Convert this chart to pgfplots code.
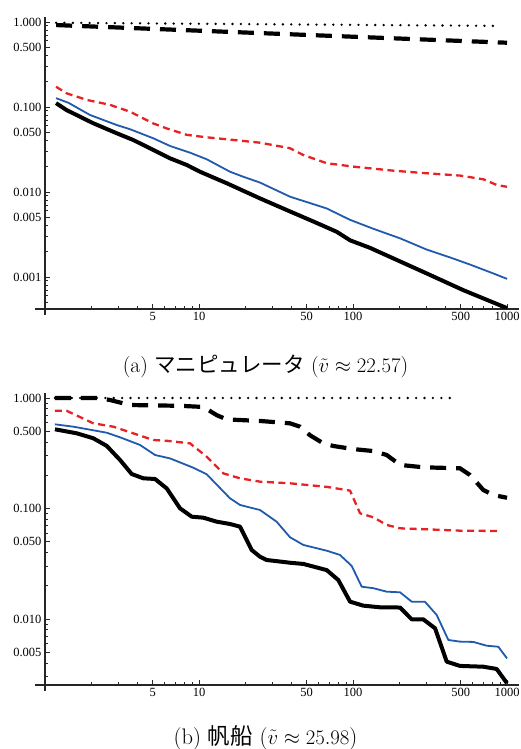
\documentclass[border=0pt]{standalone}
\usepackage{fontspec}
\usepackage{pgfplots}
\pgfplotsset{compat=1.18}
\newfontfamily\tickfont{Liberation Serif}
\newfontfamily\jafont{Noto Sans CJK JP}

\definecolor{curvred}{RGB}{232,34,36}
\definecolor{curvblue}{RGB}{32,90,172}

\tikzset{
  ldots/.style={black, line width=2.6pt, line cap=round, dash pattern=on 0pt off 8.4pt},
  lbigdash/.style={black, line width=4.2pt, dash pattern=on 16pt off 10pt},
  lred/.style={curvred, line width=2.3pt, dash pattern=on 7pt off 4.5pt, line join=round},
  lblue/.style={curvblue, line width=1.8pt, line join=round},
  lblack/.style={black, line width=4pt, line join=round},
}

\begin{document}
\begin{tikzpicture}
\path[use as bounding box] (0,0) rectangle (521pt,749pt);

% (a)
\begin{axis}[at={(45pt,440pt)}, anchor=south west,
  scale only axis, width=474.2pt, height=292pt,
  xmode=log, ymode=log,
  xmin=1, xmax=1200,
  ymin=0.00042, ymax=1.145,
  axis x line*=bottom, axis y line*=left,
  x axis line style={shorten <=-10pt},
  y axis line style={shorten <=-6pt},
  axis line style={line width=1.1pt, black!85},
  tick style={black!85, line width=0.9pt},
  major tick length=5pt, minor tick length=3pt,
  tick align=inside,
  xtick={5,10,50,100,500,1000},
  xticklabels={5,10,50,100,500,1000},
  minor xtick={2,3,4,6,7,8,9,20,30,40,60,70,80,90,200,300,400,600,700,800,900},
  ticklabel style={font=\tickfont\fontsize{12.5}{12.5}\selectfont},
  ytick={0.001,0.005,0.01,0.05,0.1,0.5,1},
  yticklabels={0.001,0.005,0.010,0.050,0.100,0.500,1.000},
  minor ytick={0.0005,0.0006,0.0007,0.0008,0.0009,0.002,0.003,0.004,0.006,0.007,0.008,0.009,0.02,0.03,0.04,0.06,0.07,0.08,0.09,0.2,0.3,0.4,0.6,0.7,0.8,0.9},
]
\addplot[ldots] coordinates {(1.18,0.98) (835,0.90)};
\addplot[lbigdash] coordinates {(1.18,0.92) (24.9,0.74) (1000,0.57)};
\addplot[lred] coordinates {
(1.18,0.173) (1.38,0.145) (1.87,0.121) (2.64,0.106) (3.57,0.088) (5.05,0.064)
(6.17,0.056) (8.32,0.047) (11.2,0.044) (16.6,0.041) (24.9,0.038) (39,0.0327)
(47.6,0.0272) (67.5,0.0218) (100,0.0199) (183,0.0178) (301,0.0166) (495,0.0156)
(702,0.0141) (857,0.0121) (1000,0.0115)};
\addplot[lblue] coordinates {
(1.18,0.127) (1.42,0.112) (1.96,0.0805) (2.92,0.0614) (3.57,0.0547) (5.05,0.0428)
(6.48,0.0348) (8.74,0.029) (11.2,0.0243) (15.9,0.0173) (19.4,0.0151) (24.9,0.0129)
(39,0.0088) (52.6,0.0074) (67.5,0.0064) (95.7,0.0047) (135,0.0037) (202,0.00285)
(301,0.0021) (426,0.0017) (575,0.0014) (815,0.0011) (1000,0.00095)};
\addplot[lblack] coordinates {
(1.18,0.111) (1.38,0.092) (2.06,0.0643) (2.92,0.0491) (3.74,0.0409) (5.05,0.0312)
(6.48,0.0249) (8.32,0.0208) (10.15,0.0173) (15.1,0.0127) (24.9,0.0084) (39,0.0059)
(55.2,0.0045) (78.4,0.0034) (95.7,0.0027) (129,0.0022) (301,0.0011) (520,0.0007)
(1000,0.00043)};
\end{axis}
\node[anchor=base, font=\fontsize{21.5}{23}\selectfont, inner sep=0pt] at (265.5pt,376pt)
  {(a) {\jafont マニピュレータ} ($\tilde{v}\approx 22.57$)};

% (b)
\begin{axis}[at={(45pt,64pt)}, anchor=south west,
  scale only axis, width=474.2pt, height=292pt,
  xmode=log, ymode=log,
  xmin=1, xmax=1200,
  ymin=0.002527, ymax=1.11,
  axis x line*=bottom, axis y line*=left,
  x axis line style={shorten <=-10pt},
  y axis line style={shorten <=-6pt},
  axis line style={line width=1.1pt, black!85},
  tick style={black!85, line width=0.9pt},
  major tick length=5pt, minor tick length=3pt,
  tick align=inside,
  xtick={5,10,50,100,500,1000},
  xticklabels={5,10,50,100,500,1000},
  minor xtick={2,3,4,6,7,8,9,20,30,40,60,70,80,90,200,300,400,600,700,800,900},
  ticklabel style={font=\tickfont\fontsize{12.5}{12.5}\selectfont},
  ytick={0.005,0.01,0.05,0.1,0.5,1},
  yticklabels={0.005,0.010,0.050,0.100,0.500,1.000},
  minor ytick={0.003,0.004,0.006,0.007,0.008,0.009,0.02,0.03,0.04,0.06,0.07,0.08,0.09,0.2,0.3,0.4,0.6,0.7,0.8,0.9},
]
\addplot[ldots] coordinates {(1.16,1.0) (460,1.0)};
\addplot[lbigdash] coordinates {
(1.16,1.0) (2.17,1.0) (2.64,0.96) (3.57,0.864) (7.53,0.85) (10.66,0.83) (13.03,0.70)
(15.13,0.64) (24.9,0.62) (39,0.59) (45.3,0.55) (52.6,0.46) (64.1,0.389) (74.5,0.368)
(100.4,0.345) (135.5,0.331) (165.5,0.305) (202,0.248) (286,0.236) (495,0.231)
(575,0.201) (702,0.147) (815,0.1325) (1000,0.125)};
\addplot[lred] coordinates {
(1.16,0.767) (1.38,0.767) (2.06,0.59) (2.78,0.55) (3.74,0.479) (5.05,0.417)
(6.17,0.41) (8.74,0.389) (11.22,0.294) (14.38,0.208) (18.46,0.1876) (24.9,0.175)
(39,0.169) (67.5,0.157) (95.7,0.145) (111.1,0.0905) (135.5,0.0832) (165.5,0.071)
(202,0.0662) (301,0.0648) (495,0.063) (901,0.0626)};
\addplot[lblue] coordinates {
(1.16,0.578) (1.53,0.55) (2.52,0.485) (3.07,0.441) (4.14,0.376) (5.18,0.305)
(6.48,0.284) (9.18,0.234) (11.22,0.204) (15.9,0.1236) (18.46,0.1076) (24.9,0.0969)
(31.9,0.076) (39,0.0549) (47.6,0.0468) (67.5,0.0415) (82.3,0.038) (98.1,0.0302)
(113.9,0.0196) (135.5,0.019) (165.5,0.01767) (202,0.01744) (240.5,0.01435)
(293,0.01435) (349.6,0.01087) (416,0.00646) (495,0.00624) (604,0.0062)
(738,0.00573) (878,0.00561) (1000,0.0044)};
\addplot[lblack] coordinates {
(1.16,0.521) (1.61,0.479) (2.06,0.432) (2.52,0.368) (3.07,0.275) (3.66,0.205)
(4.35,0.1876) (5.18,0.185) (6.17,0.152) (7.53,0.1004) (8.97,0.0843) (10.66,0.0826)
(13.03,0.076) (15.9,0.0724) (18.46,0.0685) (21.99,0.0421) (24.9,0.0366) (27.5,0.0342)
(39,0.0323) (47.6,0.0315) (67.5,0.0277) (80.3,0.0225) (95.7,0.01435) (116.7,0.0132)
(149.7,0.01276) (202,0.0127) (240.5,0.00993) (286,0.00993) (341,0.00824)
(406,0.00411) (495,0.00376) (702,0.0037) (857,0.00353) (1000,0.00262)};
\end{axis}
\node[anchor=base, font=\fontsize{22.5}{24}\selectfont, inner sep=0pt] at (265.5pt,5pt)
  {(b) {\jafont 帆船} ($\tilde{v}\approx 25.98$)};
\end{tikzpicture}
\end{document}
